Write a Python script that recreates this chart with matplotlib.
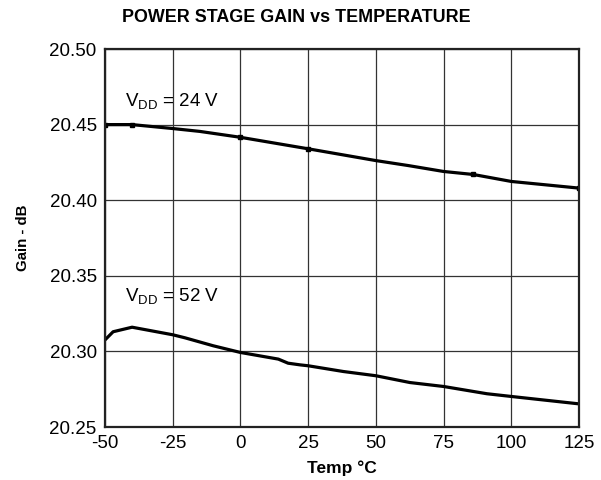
import matplotlib
matplotlib.use("Agg")
import matplotlib.pyplot as plt

plt.rcParams['font.family'] = ['Liberation Sans', 'DejaVu Sans']
plt.rcParams['axes.unicode_minus'] = False

# VDD = 24 V
temp_24 = [-50, -40, -25, -15, 0, 25, 50, 62, 75, 86, 100, 125]
gain_24 = [20.450, 20.450, 20.4474, 20.4455, 20.4416, 20.434, 20.4262, 20.4229,
           20.419, 20.417, 20.4124, 20.408]
mark_24 = [0, 1, 4, 5, 9, 11]

# VDD = 52 V
temp_52 = [-50, -47, -40, -25, -20.5, -10, 0, 14, 17.6, 22, 25, 38, 50, 62.6,
           75, 91, 100, 125]
gain_52 = [20.3076, 20.313, 20.316, 20.311, 20.309, 20.3037, 20.2993, 20.2949,
           20.2922, 20.2911, 20.2905, 20.2867, 20.2839, 20.2794, 20.2768,
           20.272, 20.2702, 20.2653]

x_ticks = [-50, -25, 0, 25, 50, 75, 100, 125]
y_ticks = [20.25, 20.30, 20.35, 20.40, 20.45, 20.50]

fig = plt.figure(figsize=(6.01, 4.80), dpi=100)
ax = fig.add_axes([105/601, 1-427/480, (579-105)/601, (427-49)/480])

ax.plot(temp_24, gain_24, color='black', lw=2.3, solid_capstyle='butt')
ax.plot([temp_24[i] for i in mark_24], [gain_24[i] for i in mark_24],
        ls='none', marker='s', ms=3.5, color='black')
ax.plot(temp_52, gain_52, color='black', lw=2.3)

ax.set_xlim(-50, 125)
ax.set_ylim(20.25, 20.50)
ax.set_xticks(x_ticks)
ax.set_yticks(y_ticks)
ax.set_yticklabels([f"{v:.2f}" for v in y_ticks])
ax.tick_params(length=0, labelsize=13.5, pad=6)
ax.grid(True, color='#333333', lw=0.9)
for s in ax.spines.values():
    s.set_linewidth(1.6)
    s.set_color('#222222')

ax.text(-42.6, 20.465, r'V$_{\mathregular{DD}}$ = 24 V', fontsize=13.5, va='center')
ax.text(-42.6, 20.336, r'V$_{\mathregular{DD}}$ = 52 V', fontsize=13.5, va='center')

fig.text(296/601, 1-18/480, 'POWER STAGE GAIN vs TEMPERATURE', ha='center',
         va='center', fontsize=12.9, fontweight='bold')
ax.set_xlabel('Temp °C', fontsize=12.5, fontweight='bold', labelpad=6)
ax.set_ylabel('Gain - dB', fontsize=10.8, fontweight='bold', labelpad=14)

fig.savefig('out.png', dpi=100)
